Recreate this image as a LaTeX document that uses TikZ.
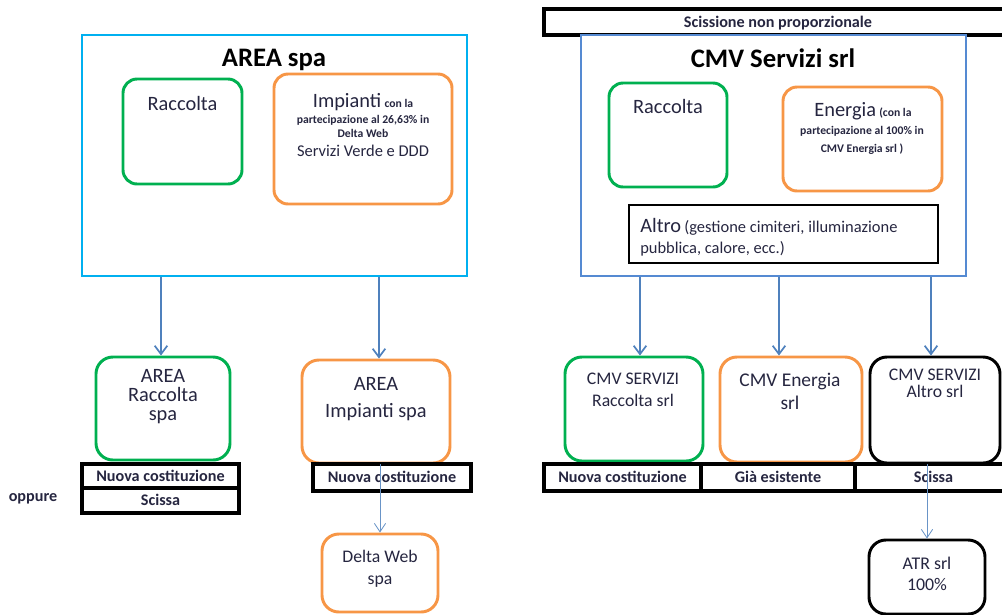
\documentclass[tikz,border=0pt]{standalone}
\usepackage{fontspec}
\setmainfont{Carlito}
\usetikzlibrary{arrows.meta,calc}

\definecolor{areablue}{RGB}{0,176,240}
\definecolor{cmvblue}{RGB}{85,138,210}
\definecolor{arrblue}{RGB}{79,129,189}
\definecolor{vgreen}{RGB}{0,176,80}
\definecolor{vorange}{RGB}{247,150,70}
\definecolor{txtnavy}{RGB}{38,38,64}

\newcommand\ttlfont{\fontsize{19}{22}\selectfont\bfseries}
\newcommand\boxfont{\fontsize{14.5}{17}\selectfont}
\newcommand\midfont{\fontsize{11.7}{14}\selectfont}
\newcommand\smallbf{\fontsize{8.3}{10}\selectfont\bfseries}
\newcommand\tagfont{\fontsize{11.5}{13}\selectfont\bfseries}

\tikzset{
  bigbox/.style={draw=#1, fill=white, line width=2.1pt, inner sep=0pt},
  rbox/.style={draw=#1, fill=white, line width=2.1pt, rounded corners=10pt, inner sep=0pt},
  tagbox/.style={draw=black, fill=white, line width=2.8pt, inner sep=0pt,
    text=txtnavy, font=\tagfont, text height=7.4pt, text depth=0pt},
  lbl/.style={text=txtnavy, inner sep=0pt, align=center},
  ttl/.style={inner sep=0pt, font=\ttlfont},
  arr/.style={draw=arrblue, line width=1.2pt, -{Straight Barb[length=6pt,width=9pt]}},
  tarr/.style={draw=arrblue!85, line width=0.6pt, -{Straight Barb[length=6pt,width=8pt]}},
}

\begin{document}
\begin{tikzpicture}[x=0.025cm, y=-0.025cm]
    \def\px{0.025cm}
    \useasboundingbox (0,0) rectangle (1002,614);

    %AREA spa
    \node[bigbox=areablue, minimum width=385*\px, minimum height=241*\px] (area) at (274.5,155.5) {};
    \node[ttl, anchor=base] (areaT) at (274,66) {AREA spa};
    \node[rbox=vgreen, minimum width=119*\px, minimum height=105*\px] (araccI) at (182.5,131.5) {};
    \node[lbl, font=\boxfont, anchor=base] (araccIT) at (182.5,110) {Raccolta};
    \node[rbox=vorange, minimum width=178*\px, minimum height=130*\px] (aimpI) at (363,139) {};
    \node[lbl, anchor=base] (aimpIT1) at (363,107) {{\boxfont Impianti} {\smallbf con la}};
    \node[lbl, font=\smallbf, anchor=base] (aimpIT2) at (363,123) {partecipazione al 26,63\% in};
    \node[lbl, font=\smallbf, anchor=base] (aimpIT3) at (363,137) {Delta Web};
    \node[lbl, font=\midfont, anchor=base] (aimpIT4) at (363,156) {Servizi Verde e DDD};

    %CMV Servizi srl
    \node[tagbox, minimum width=468*\px, minimum height=26*\px] (scis) at (778,22) {Scissione non proporzionale};
    \node[bigbox=cmvblue, minimum width=385*\px, minimum height=241*\px] (cmv) at (773.5,155.5) {};
    \node[ttl, anchor=base] (cmvT) at (773,67) {CMV Servizi srl};
    \node[rbox=vgreen, minimum width=118*\px, minimum height=104*\px] (craccI) at (668,135) {};
    \node[lbl, font=\boxfont, anchor=base] (craccIT) at (668,113) {Raccolta};
    \node[rbox=vorange, minimum width=159*\px, minimum height=104*\px] (cenI) at (862.5,139) {};
    \node[lbl, anchor=base] (cenIT1) at (863,116) {{\boxfont Energia} {\smallbf (con la}};
    \node[lbl, font=\smallbf, anchor=base] (cenIT2) at (862,134) {partecipazione al 100\% in};
    \node[lbl, font=\smallbf, anchor=base] (cenIT3) at (862,152) {CMV Energia srl )};
    \node[bigbox=black, minimum width=309*\px, minimum height=58*\px] (caltI) at (783.5,234) {};
    \node[lbl, anchor=base west] (caltIT1) at (640,232) {{\boxfont Altro} {\midfont (gestione cimiteri, illuminazione}};
    \node[lbl, font=\midfont, anchor=base west] (caltIT2) at (640,253) {pubblica, calore, ecc.)};

    %nuove societa
    \node[rbox=vgreen, rounded corners=12pt, minimum width=134*\px, minimum height=103*\px] (nraccA) at (163,408.5) {};
    \node[lbl, font=\fontsize{14.5}{13.5}\selectfont, anchor=north] (nraccAT) at (163,369) {AREA\\Raccolta\\spa};
    \node[rbox=vorange, rounded corners=12pt, minimum width=148*\px, minimum height=103*\px] (nimpA) at (376,411.5) {};
    \node[lbl, font=\fontsize{14.5}{19.2}\selectfont, anchor=north] (nimpAT) at (376,377) {AREA\\Impianti spa};
    \node[rbox=vorange, rounded corners=12pt, minimum width=116*\px, minimum height=78*\px] (delta) at (380,573) {};
    \node[lbl, font=\fontsize{12.6}{15.6}\selectfont, anchor=north] (deltaT) at (380,550) {Delta Web\\spa};

    \node[rbox=vgreen, rounded corners=12pt, minimum width=138*\px, minimum height=104*\px] (craccN) at (634,409) {};
    \node[lbl, font=\fontsize{12.6}{15.6}\selectfont, anchor=north] (craccNT) at (633,373) {CMV SERVIZI\\Raccolta srl};
    \node[rbox=vorange, rounded corners=12pt, minimum width=142*\px, minimum height=105*\px] (cenN) at (791,409.5) {};
    \node[lbl, font=\fontsize{13.8}{16.4}\selectfont, anchor=north] (cenNT) at (790,373) {CMV Energia\\srl};
    \node[rbox=black, rounded corners=12pt, minimum width=130*\px, minimum height=106*\px] (caltN) at (935,410) {};
    \node[lbl, font=\fontsize{12.6}{12}\selectfont, anchor=north] (caltNT) at (935,369) {CMV SERVIZI\\Altro srl};
    \node[rbox=black, rounded corners=12pt, minimum width=116*\px, minimum height=74*\px] (atr) at (927,577) {};
    \node[lbl, font=\fontsize{12.7}{15}\selectfont, anchor=north] (atrT) at (927,557) {ATR srl\\100\%};

    %etichette
    \node[tagbox, minimum width=157*\px, minimum height=24*\px] (tagA1) at (160.5,476) {Nuova costituzione};
    \node[tagbox, minimum width=157*\px, minimum height=25*\px] (tagA2) at (160.5,500.5) {Scissa};
    \node[lbl, font=\tagfont] (oppure) at (33,499) {oppure};
    \node[tagbox, minimum width=158*\px, minimum height=27*\px] (tagB) at (392,477.5) {Nuova costituzione};
    \foreach \n/\x/\w/\t in {tagC1/622.5/157/Nuova costituzione, tagC2/778/154/Già esistente, tagC3/933.5/157/Scissa} {
        \node[tagbox, minimum width=\w*\px, minimum height=27*\px] (\n) at (\x,477.5) {\t};
    }

    %frecce
    \foreach \src/\dst/\dx in {area/nraccA/-2, area/nimpA/3, cmv/craccN/6, cmv/cenN/-12, cmv/caltN/-4} {
        \coordinate (in-\dst) at ($(\dst.north)+(\dx,0)$);
        \draw[arr] (\src.south -| in-\dst) -- (in-\dst);
    }
    \draw[tarr] (nimpA.south -| delta.north) -- (delta.north);
    \draw[tarr] (caltN.south -| atr.north) -- (atr.north);
\end{tikzpicture}
\end{document}
